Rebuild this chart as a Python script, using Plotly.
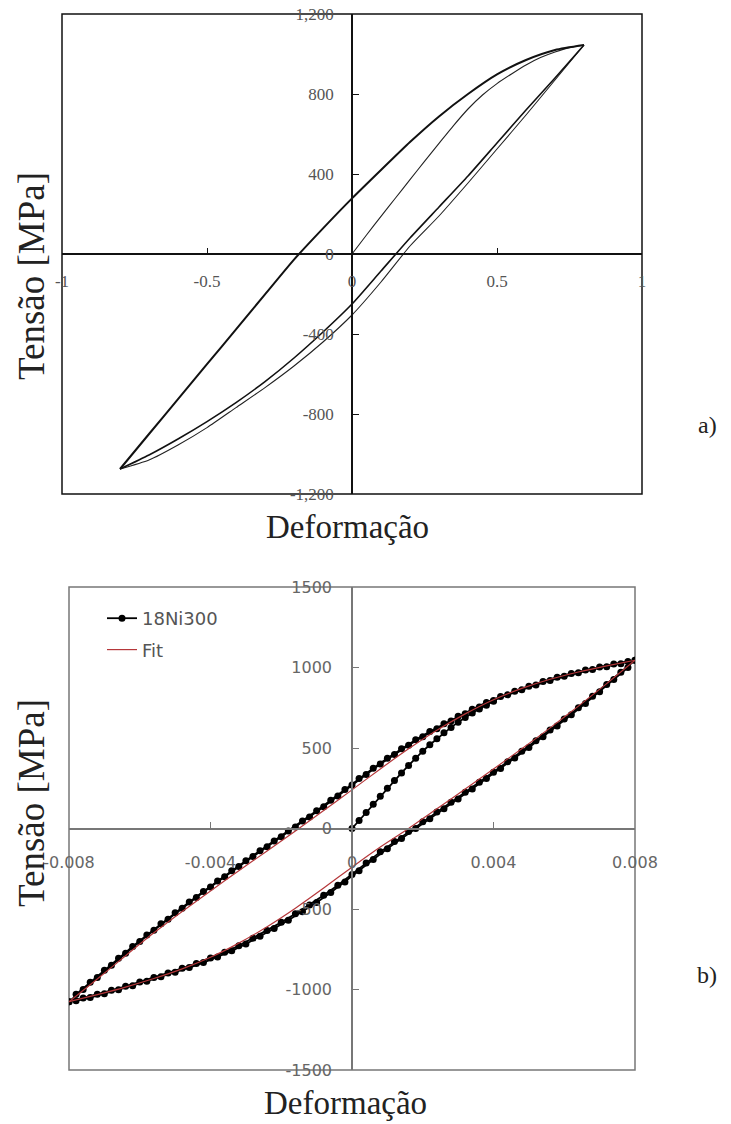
import plotly.graph_objects as go

# ---------------- (a) normalised hysteresis loop ----------------
a_strain = [-0.8, -0.7, -0.6, -0.5, -0.4, -0.3, -0.2, -0.1, 0.0, 0.1, 0.2, 0.3, 0.4, 0.5, 0.6, 0.7, 0.8]
a_strain_down = a_strain[::-1]
a_init_strain = [0.0, 0.05, 0.1, 0.15, 0.2, 0.25, 0.3, 0.35, 0.4, 0.45, 0.5, 0.55, 0.6, 0.65, 0.7, 0.75, 0.8]
a_init_stress = [0, 95, 188, 280, 372, 463, 553, 642, 725, 795, 852, 900, 945, 982, 1010, 1032, 1045]
a_unload1_stress = [1045, 870, 695, 525, 355, 190, 40, -140, -305, -440, -560, -668, -768, -868, -955, -1030, -1075]
a_upper_stress = [-1075, -900, -726, -551, -377, -202, -28, 128, 278, 420, 560, 688, 800, 898, 970, 1020, 1045]
a_unload2_stress = [1045, 880, 720, 555, 390, 235, 80, -85, -250, -390, -520, -638, -743, -838, -925, -1005, -1075]

a_xticks = [-1, -0.5, 0, 0.5, 1]
a_xticktext = ["-1", "-0.5", "0", "0.5", "1"]
a_yticks = [-1200, -800, -400, 0, 400, 800, 1200]
a_yticktext = ["-1,200", "-800", "-400", "0", "400", "800", "1,200"]

# ---------------- (b) 18Ni300 measured loop and fit ----------------
b_init_strain = [0.0, 0.0002, 0.0004, 0.0006, 0.0008, 0.0010, 0.0012, 0.0014, 0.0016, 0.0018, 0.0020,
                 0.0022, 0.0024, 0.0026, 0.0028, 0.0030, 0.0032, 0.0034, 0.0036, 0.0038, 0.0040]
b_init_stress = [0, 50, 100, 150, 200, 250, 298, 345, 392, 437, 480,
                 520, 558, 594, 628, 660, 690, 717, 742, 766, 790]

b_up1_strain = [-0.0080, -0.0076, -0.0072, -0.0068, -0.0064, -0.0060, -0.0056, -0.0052, -0.0048, -0.0044,
                -0.0040, -0.0036, -0.0032, -0.0028, -0.0024, -0.0020, -0.0016, -0.0012, -0.0008, -0.0004,
                0.0000, 0.0004, 0.0008, 0.0012, 0.0016, 0.0020, 0.0024, 0.0028, 0.0032, 0.0036,
                0.0040, 0.0044, 0.0048, 0.0052, 0.0056, 0.0060, 0.0064, 0.0068, 0.0072, 0.0076, 0.0080]
b_up1_stress = [-1076, -1000, -925, -850, -775, -702, -632, -563, -496, -429,
                -363, -299, -236, -174, -113, -52, 10, 72, 135, 202,
                270, 335, 400, 460, 517, 570, 620, 667, 712, 755,
                795, 830, 862, 892, 920, 945, 967, 987, 1005, 1024, 1045]

b_up2_strain = [-0.0078, -0.0074, -0.0070, -0.0066, -0.0062, -0.0058, -0.0054, -0.0050, -0.0046, -0.0042,
                -0.0038, -0.0034, -0.0030, -0.0026, -0.0022, -0.0018, -0.0014, -0.0010, -0.0006, -0.0002,
                0.0002, 0.0006, 0.0010, 0.0014, 0.0018, 0.0022, 0.0026, 0.0030, 0.0034, 0.0038,
                0.0042, 0.0046, 0.0050, 0.0054, 0.0058, 0.0062, 0.0066, 0.0070, 0.0074, 0.0078]
b_up2_stress = [-1030, -955, -880, -806, -733, -662, -592, -524, -457, -391,
                -326, -262, -200, -138, -77, -15, 47, 110, 175, 243,
                310, 375, 437, 495, 551, 602, 650, 697, 741, 783,
                820, 853, 884, 913, 940, 963, 984, 1003, 1021, 1038]

b_lo1_strain = [0.0080, 0.0076, 0.0072, 0.0068, 0.0064, 0.0060, 0.0056, 0.0052, 0.0048, 0.0044,
                0.0040, 0.0036, 0.0032, 0.0028, 0.0024, 0.0020, 0.0016, 0.0012, 0.0008, 0.0004,
                0.0000, -0.0004, -0.0008, -0.0012, -0.0016, -0.0020, -0.0024, -0.0028, -0.0032, -0.0036,
                -0.0040, -0.0044, -0.0048, -0.0052, -0.0056, -0.0060, -0.0064, -0.0068, -0.0072, -0.0076, -0.0080]
b_lo1_stress = [1045, 970, 895, 822, 750, 680, 612, 545, 480, 415,
                350, 287, 225, 163, 102, 42, -18, -80, -145, -215,
                -285, -352, -415, -475, -530, -583, -633, -682, -728, -768,
                -805, -838, -868, -897, -925, -953, -980, -1005, -1029, -1053, -1076]

b_lo2_strain = [0.0078, 0.0074, 0.0070, 0.0066, 0.0062, 0.0058, 0.0054, 0.0050, 0.0046, 0.0042,
                0.0038, 0.0034, 0.0030, 0.0026, 0.0022, 0.0018, 0.0014, 0.0010, 0.0006, 0.0002,
                -0.0002, -0.0006, -0.0010, -0.0014, -0.0018, -0.0022, -0.0026, -0.0030, -0.0034, -0.0038,
                -0.0042, -0.0046, -0.0050, -0.0054, -0.0058, -0.0062, -0.0066, -0.0070, -0.0074, -0.0078]
b_lo2_stress = [1000, 925, 850, 777, 706, 637, 570, 503, 438, 373,
                310, 246, 184, 122, 61, 0, -62, -125, -193, -262,
                -332, -398, -460, -517, -570, -621, -670, -717, -760, -798,
                -833, -864, -893, -921, -949, -976, -1001, -1026, -1050, -1070]

b_fit_strain = [-0.0080, -0.0072, -0.0064, -0.0056, -0.0048, -0.0040, -0.0032, -0.0024, -0.0016, -0.0008,
                0.0000, 0.0008, 0.0016, 0.0024, 0.0032, 0.0040, 0.0048, 0.0056, 0.0064, 0.0072, 0.0080]
b_fit_up_stress = [-1076, -935, -790, -648, -515, -388, -262, -140, -15, 112,
                   240, 370, 495, 610, 712, 800, 870, 927, 972, 1010, 1045]
b_fit_strain_down = b_fit_strain[::-1]
b_fit_lo_stress = [1045, 900, 760, 625, 495, 370, 245, 122, 0, -115,
                   -240, -370, -495, -610, -712, -800, -872, -932, -985, -1032, -1076]

b_xticks = [-0.008, -0.004, 0, 0.004, 0.008]
b_xticktext = ["-0.008", "-0.004", "0", "0.004", "0.008"]
b_yticks = [-1500, -1000, -500, 0, 500, 1000, 1500]
b_yticktext = ["-1500", "-1000", "-500", "0", "500", "1000", "1500"]

W, H = 731, 1124

def px_x(p):
    return p / W

def px_y(p):
    return 1 - p / H

# plot-area domains (paper fractions)
a_xdom = [px_x(62), px_x(642)]
a_ydom = [px_y(494), px_y(14)]
b_xdom = [px_x(69), px_x(635)]
b_ydom = [px_y(1070), px_y(587)]

fig = go.Figure()

# (a) curves
thin = dict(color="#222", width=1.1, shape="spline", smoothing=0.6)
fig.add_trace(go.Scatter(x=a_init_strain, y=a_init_stress, mode="lines", line=thin,
                         xaxis="x", yaxis="y", showlegend=False, hoverinfo="skip"))
fig.add_trace(go.Scatter(x=a_strain_down, y=a_unload1_stress, mode="lines", line=thin,
                         xaxis="x", yaxis="y", showlegend=False, hoverinfo="skip"))
fig.add_trace(go.Scatter(x=a_strain, y=a_upper_stress, mode="lines",
                         line=dict(color="#111", width=2.0, shape="spline", smoothing=0.6),
                         xaxis="x", yaxis="y", showlegend=False, hoverinfo="skip"))
fig.add_trace(go.Scatter(x=a_strain_down, y=a_unload2_stress, mode="lines",
                         line=dict(color="#111", width=1.6, shape="spline", smoothing=0.6),
                         xaxis="x", yaxis="y", showlegend=False, hoverinfo="skip"))

# (b) measured data
exp_style = dict(mode="lines+markers", line=dict(color="black", width=1.8),
                 marker=dict(symbol="circle", size=7, color="black"),
                 xaxis="x2", yaxis="y2", legendgroup="exp", hoverinfo="skip")
fig.add_trace(go.Scatter(x=b_init_strain, y=b_init_stress, name="18Ni300", showlegend=True, **exp_style))
fig.add_trace(go.Scatter(x=b_lo2_strain, y=b_lo2_stress, name="18Ni300", showlegend=False, **exp_style))
fig.add_trace(go.Scatter(x=b_up1_strain, y=b_up1_stress, name="18Ni300", showlegend=False, **exp_style))
fig.add_trace(go.Scatter(x=b_lo1_strain, y=b_lo1_stress, name="18Ni300", showlegend=False, **exp_style))
fig.add_trace(go.Scatter(x=b_up2_strain, y=b_up2_stress, name="18Ni300", showlegend=False, **exp_style))

# (b) fitted model
fit_style = dict(mode="lines", line=dict(color="#b5373a", width=1.2, shape="spline", smoothing=0.6),
                 xaxis="x2", yaxis="y2", legendgroup="fit", hoverinfo="skip")
fig.add_trace(go.Scatter(x=b_fit_strain, y=b_fit_up_stress, name="Fit", showlegend=True, **fit_style))
fig.add_trace(go.Scatter(x=b_fit_strain_down, y=b_fit_lo_stress, name="Fit", showlegend=False, **fit_style))

serif = "Liberation Serif, Times New Roman, serif"
sans = "DejaVu Sans, Arial, sans-serif"

common_axis = dict(showgrid=False, zeroline=False, showline=True, anchor="free",
                   fixedrange=True, automargin=False)

def label(text, x, y, size, angle=0):
    return dict(text=text, x=px_x(x), y=px_y(y), xref="paper", yref="paper",
                xanchor="center", yanchor="middle", textangle=angle, showarrow=False,
                font=dict(family=serif, size=size, color="#222"))

fig.update_layout(
    width=W, height=H,
    margin=dict(l=0, r=0, t=0, b=0, autoexpand=False),
    paper_bgcolor="white", plot_bgcolor="white",
    xaxis=dict(domain=a_xdom, range=[-1, 1], position=sum(a_ydom) / 2,
               linecolor="#111", linewidth=1.5, ticks="inside", ticklen=5, tickcolor="#111",
               tickvals=a_xticks, ticktext=a_xticktext, ticklabelstandoff=12,
               tickfont=dict(family=serif, size=17, color="#555"), **common_axis),
    yaxis=dict(domain=a_ydom, range=[-1200, 1200], position=sum(a_xdom) / 2,
               linecolor="#111", linewidth=1.5, ticks="inside", ticklen=6, tickcolor="#111",
               tickvals=a_yticks, ticktext=a_yticktext, ticklabelstandoff=14,
               tickfont=dict(family=serif, size=17, color="#555"), **common_axis),
    xaxis2=dict(domain=b_xdom, range=[-0.008, 0.008], position=sum(b_ydom) / 2,
                linecolor="#777", linewidth=1.5, ticks="inside", ticklen=6, tickcolor="#777",
                tickvals=b_xticks, ticktext=b_xticktext, ticklabelstandoff=20,
                tickfont=dict(family=sans, size=16, color="#666"), **common_axis),
    yaxis2=dict(domain=b_ydom, range=[-1500, 1500], position=sum(b_xdom) / 2,
                linecolor="#777", linewidth=1.5, ticks="inside", ticklen=6, tickcolor="#777",
                tickvals=b_yticks, ticktext=b_yticktext, ticklabelstandoff=16,
                tickfont=dict(family=sans, size=16, color="#666"), **common_axis),
    yaxis3=dict(domain=b_ydom, range=[-1500, 1500], position=sum(b_xdom) / 2, overlaying="y2",
                showline=False, ticks="outside", ticklen=6, tickcolor="#777",
                tickvals=b_yticks, showticklabels=False, showgrid=False, zeroline=False,
                anchor="free", fixedrange=True, automargin=False),
    legend=dict(x=px_x(102), y=px_y(600), xanchor="left", yanchor="top",
                bgcolor="rgba(0,0,0,0)", tracegroupgap=5,
                font=dict(family=sans, size=18, color="#555")),
    shapes=[
        dict(type="rect", xref="x domain", yref="y domain", x0=0, x1=1, y0=0, y1=1,
             line=dict(color="#111", width=1.5), layer="below"),
        dict(type="rect", xref="x2 domain", yref="y2 domain", x0=0, x1=1, y0=0, y1=1,
             line=dict(color="#777", width=1.5), layer="below"),
    ],
    annotations=[
        label("Tensão [MPa]", 31, 276, 37, -90),
        label("Deformação", 347, 527, 33),
        label("a)", 707, 425, 24),
        label("Tensão [MPa]", 31, 803, 37, -90),
        label("Deformação", 345, 1103, 33),
        label("b)", 707, 975, 24),
    ],
)

fig.write_html("out.html")
